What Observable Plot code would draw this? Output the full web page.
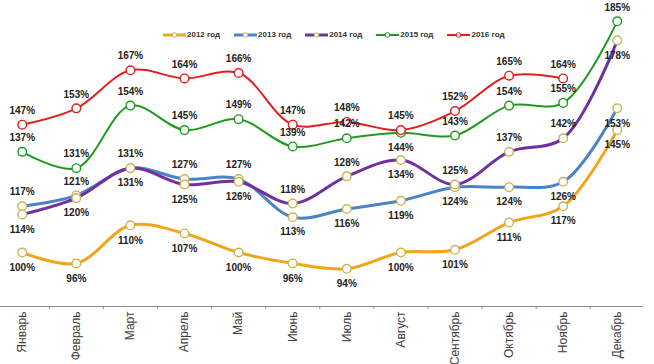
<!DOCTYPE html>
<html>
<head>
<meta charset="utf-8">
<script src="https://cdn.jsdelivr.net/npm/d3@7"></script>
<script src="https://cdn.jsdelivr.net/npm/@observablehq/plot@0.6"></script>
<style>
  html, body { margin: 0; padding: 0; background: #fff; }
  #wrap { position: relative; width: 654px; height: 364px; font-family: "Liberation Sans", Arial, sans-serif; }
  #legend { position: absolute; top: 30px; left: 163px; display: flex; font-size: 8px; font-weight: bold; color: #333; }
  .item { display: flex; align-items: center; margin-right: 14px; }
  .item svg { margin-right: 1px; }
</style>
</head>
<body>
<div id="wrap"><div id="legend"></div></div>
<script>
const months = ["Январь","Февраль","Март","Апрель","Май","Июнь","Июль","Август","Сентябрь","Октябрь","Ноябрь","Декабрь"];
const seriesNames = ["2012 год","2013 год","2014 год","2015 год","2016 год"];
const v2012 = [100, 96, 110, 107, 100, 96, 94, 100, 101, 111, 117, 145];
const v2013 = [117, 121, 131, 127, 127, 113, 116, 119, 124, 124, 126, 153];
const v2014 = [114, 120, 131, 125, 126, 118, 128, 134, 125, 137, 142, 178];
const v2015 = [137, 131, 154, 145, 149, 139, 142, 144, 143, 154, 155, 185];
const v2016 = [147, 153, 167, 164, 166, 147, 148, 145, 152, 165, 164];
// label placement: "a" above the point, "b" below
const p2012 = ["b","b","b","b","b","b","b","b","b","b","b","b"];
const p2013 = ["a","a","a","a","a","b","b","b","b","b","b","b"];
const p2014 = ["b","b","b","b","b","a","a","b","a","a","a","b"];
const p2015 = ["a","a","a","a","a","a","a","b","a","a","a","a"];
const p2016 = ["a","a","a","a","a","a","a","a","a","a","a"];

const colors = ["#f0a51c", "#4a84c4", "#7030a0", "#1f9a1f", "#e01f1f"];
const markerStroke = ["#c8b45a", "#c8b45a", "#c8b45a", "#1f9a1f", "#e01f1f"];
const widths = [3, 3, 3, 2, 2];

const allVals = [v2012, v2013, v2014, v2015, v2016];
const allPos = [p2012, p2013, p2014, p2015, p2016];
const data = [];
allVals.forEach((arr, s) => arr.forEach((v, i) => data.push({s, i, v, pos: allPos[s][i]})));

const marks = [
  Plot.frame({anchor: "bottom", stroke: "#8c8c8c"}),
  Plot.axisX(d3.range(0, 11).map(i => i + 0.5), {tickSize: 3, stroke: "#8c8c8c", text: null, label: null}),
  Plot.axisX(d3.range(12), {tickSize: 0, tickPadding: 5, tickRotate: -90, tickFormat: i => months[i], fontSize: 12, fill: "#404040", label: null})
];
for (let s = 0; s < 5; s++) {
  const ds = data.filter(d => d.s === s);
  marks.push(Plot.line(ds, {x: "i", y: "v", stroke: colors[s], strokeWidth: widths[s], curve: "catmull-rom"}));
  marks.push(Plot.dot(ds, {x: "i", y: "v", r: 4.3, fill: "white", stroke: markerStroke[s], strokeWidth: 1.4}));
}
marks.push(Plot.text(data.filter(d => d.pos === "a"), {x: "i", y: "v", text: d => d.v + "%", dy: -14, fontSize: 10, fontWeight: "bold", fill: "#222"}));
marks.push(Plot.text(data.filter(d => d.pos === "b"), {x: "i", y: "v", text: d => d.v + "%", dy: 15, fontSize: 10, fontWeight: "bold", fill: "#222"}));

const chart = Plot.plot({
  width: 654,
  height: 364,
  marginLeft: 0,
  marginRight: 12,
  marginTop: 0,
  marginBottom: 58,
  style: {fontFamily: "Liberation Sans, Arial, sans-serif", background: "white", overflow: "visible"},
  x: {type: "linear", domain: [-0.5, 11.5], range: [-5.3, 643.8]},
  y: {domain: [80, 190], range: [306.4, 7.2], axis: null},
  marks
});
document.getElementById("wrap").prepend(chart);

const legend = document.getElementById("legend");
seriesNames.forEach((name, s) => {
  const item = document.createElement("div");
  item.className = "item";
  item.innerHTML = `<svg width="23" height="8"><line x1="0" x2="23" y1="4" y2="4" stroke="${colors[s]}" stroke-width="${widths[s]}"/><circle cx="11.5" cy="4" r="2.3" fill="white" stroke="${markerStroke[s]}" stroke-width="1"/></svg><span>${name}</span>`;
  legend.appendChild(item);
});
</script>
</body>
</html>
